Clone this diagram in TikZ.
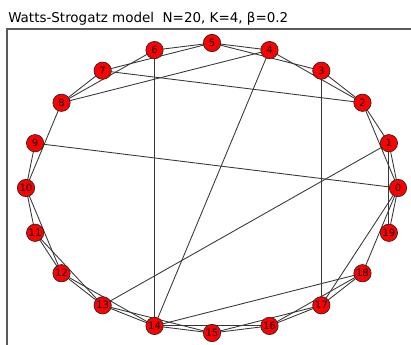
\documentclass[tikz,border=0pt]{standalone}
\usepackage{fontspec}
\setmainfont{DejaVu Sans}
\usetikzlibrary{positioning,backgrounds}
\definecolor{nodered}{RGB}{255,0,0}
\definecolor{edgegrey}{RGB}{55,55,55}
\definecolor{framegrey}{RGB}{90,90,90}
\tikzset{
  vtx/.style  ={circle, draw=black!85, fill=nodered, line width=0.5pt, minimum size=13pt,
                inner sep=0pt, font=\fontsize{7.5}{8}\selectfont},
  lnk/.style  ={draw=edgegrey, line width=0.65pt},
  frm/.style  ={draw=framegrey, line width=1.1pt},
}

\begin{document}
\begin{tikzpicture}[x=0.75pt,y=0.75pt]
\useasboundingbox (0,0) rectangle (411,344);
\def\cx{212} \def\cy{156} \def\rx{186} \def\ry{145}

% title and axes frame
\node[anchor=base west, font=\fontsize{10.1}{12}\selectfont, inner sep=0pt] (title) at (8,322)
   {Watts-Strogatz model\ \ N=20, K=4, β=0.2};
\coordinate (fbl) at (7,-2);
\coordinate (ftl) at (7,315);
\coordinate (ftr) at (413,315);
\draw[frm] (fbl) -- (ftl) -- (ftr);

% ring of nodes
\foreach \i in {0,...,19}
  \node[vtx] (n\i) at ({\cx+\rx*cos(18*\i)},{\cy+\ry*sin(18*\i)}) {\i};

% edges: lattice neighbours left after rewiring, then the rewired ones
\begin{scope}[on background layer]
\foreach \a/\b in {0/1,0/2,1/2,2/3,2/4,3/5,4/5,5/6,5/7,6/8,7/8,8/10,
                   9/10,10/11,10/12,11/12,11/13,12/13,12/14,13/14,13/15,14/15,14/16,
                   15/16,15/17,16/17,16/18,17/18,18/0,19/0,19/1}
  \draw[lnk] (n\a.center) -- (n\b.center);
\foreach \a/\b in {9/0,7/2,8/4,6/14,4/14,3/17,1/13,14/18,0/17}
  \draw[lnk] (n\a.center) -- (n\b.center);
\end{scope}
\end{tikzpicture}
\end{document}
